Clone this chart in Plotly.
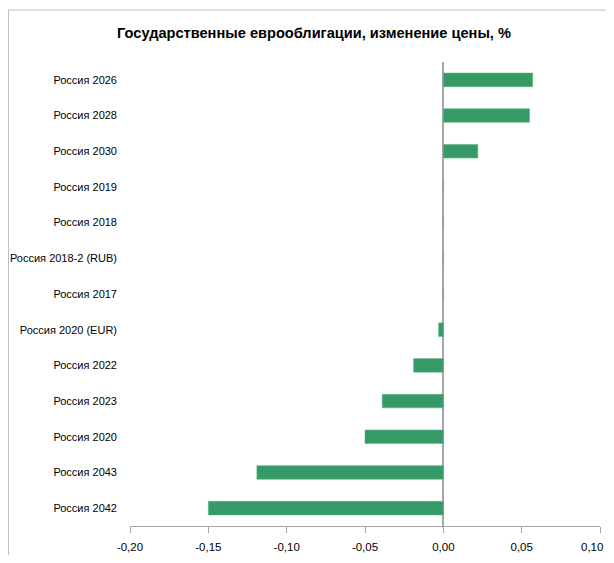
import plotly.graph_objects as go

categories = ["Россия 2026", "Россия 2028", "Россия 2030", "Россия 2019", "Россия 2018",
              "Россия 2018-2 (RUB)", "Россия 2017", "Россия 2020 (EUR)", "Россия 2022",
              "Россия 2023", "Россия 2020", "Россия 2043", "Россия 2042"]
values = [0.057, 0.055, 0.022, 0.0, 0.0, 0.0, 0.0, -0.003, -0.019, -0.039, -0.050, -0.119, -0.150]
tick_vals = [-0.20, -0.15, -0.10, -0.05, 0.00, 0.05, 0.10]
tick_text = ["-0,20", "-0,15", "-0,10", "-0,05", "0,00", "0,05", "0,10"]
title_text = "Государственные еврооблигации, изменение цены, %"

FONT = "Liberation Sans, Arial, sans-serif"

fig = go.Figure(go.Bar(
    x=values, y=categories, orientation="h",
    marker=dict(color="#369a67", line=dict(color="#5fb386", width=0.6)),
))

# the last tick label would be cut at the page edge, so it is drawn as an annotation
axis_text = tick_text[:-1] + [""]

fig.update_layout(
    width=598, height=547,
    margin=dict(l=122, r=6, t=54, b=29),
    paper_bgcolor="white", plot_bgcolor="white",
    bargap=0.62,
    showlegend=False,
    font=dict(family=FONT, size=11, color="#000000"),
    title=dict(text="<b>" + title_text + "</b>", x=306 / 598, xanchor="center",
               y=1 - 25 / 547, yanchor="middle",
               font=dict(family=FONT, size=14.6, color="#000000")),
    xaxis=dict(range=[-0.2, 0.1], tickvals=tick_vals, ticktext=axis_text, automargin=False,
               showgrid=False, zeroline=True, zerolinecolor="#a6a6a6", zerolinewidth=1.5,
               showline=True, linecolor="#a6a6a6", linewidth=1,
               ticks="outside", ticklen=6, tickcolor="#a6a6a6", ticklabelstandoff=4,
               tickfont=dict(family=FONT, size=11.5, color="#000000")),
    yaxis=dict(autorange="reversed", showgrid=False, zeroline=False, showline=False,
               automargin=False, ticks="", ticklabelstandoff=12,
               tickfont=dict(family=FONT, size=11, color="#000000")),
    annotations=[dict(x=tick_vals[-1], xref="x", y=-21 / 464, yref="paper",
                      text=tick_text[-1], showarrow=False, xanchor="right", xshift=5,
                      yanchor="middle", font=dict(family=FONT, size=11.5, color="#000000"))],
    shapes=[
        dict(type="line", xref="paper", yref="paper", x0=-0.2585, x1=-0.2585, y0=-0.2, y1=1.112,
             line=dict(color="#bfbfbf", width=1), layer="below"),
        dict(type="line", xref="paper", yref="paper", x0=-0.2585, x1=1.2, y0=1.112, y1=1.112,
             line=dict(color="#bfbfbf", width=1), layer="below"),
    ],
)

fig.write_html("out.html")
